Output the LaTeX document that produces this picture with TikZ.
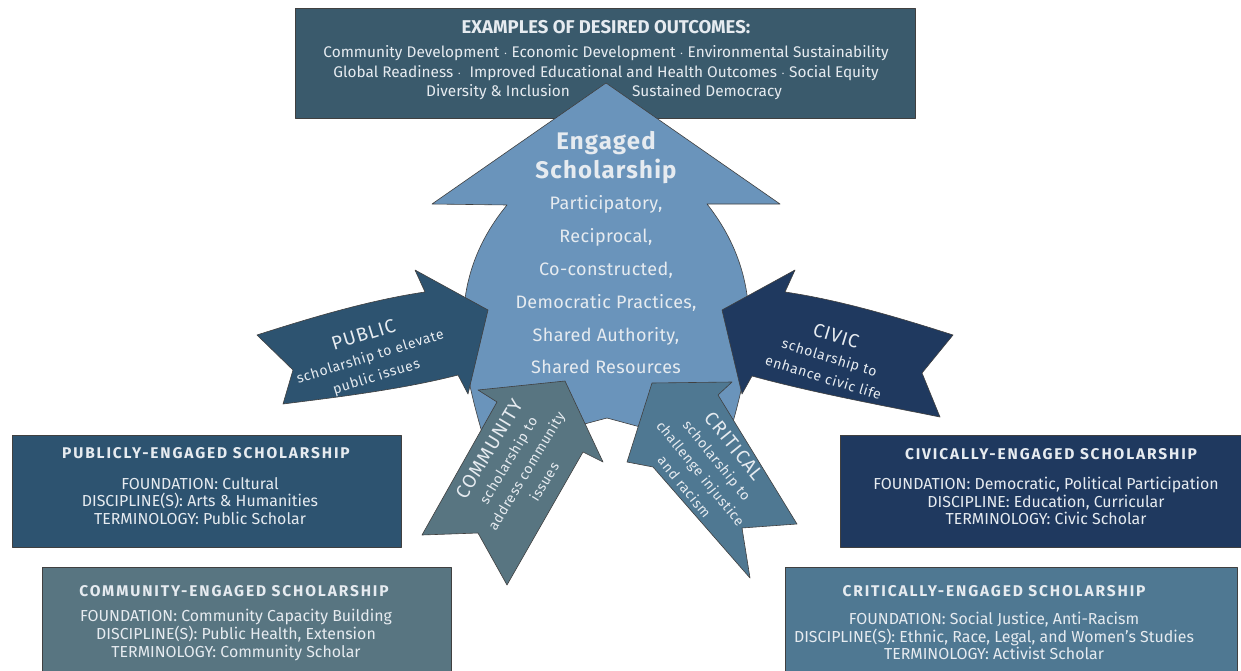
\documentclass[tikz,border=0pt]{standalone}
\usepackage{fontspec}
\setmainfont{Fira Sans}
\usepackage{xcolor}
\definecolor{top-slate}{RGB}{58,90,108}
\definecolor{engaged-blue}{RGB}{106,148,187}
\definecolor{public-blue}{RGB}{45,83,112}
\definecolor{civic-navy}{RGB}{31,57,95}
\definecolor{community-teal}{RGB}{88,117,129}
\definecolor{critical-blue}{RGB}{79,120,146}
\definecolor{pale-text}{RGB}{230,235,240}
\usetikzlibrary{calc}

\begin{document}
\begin{tikzpicture}[x=1pt,y=-1pt,
	outline/.style={draw=black!75,line width=0.6pt,line join=round},
	txt/.style={text=pale-text,inner sep=0pt,align=center},
	boxtitle/.style={txt,font=\fontsize{15.5}{18}\selectfont\bfseries\addfontfeatures{LetterSpace=12}},
	boxbody/.style={txt,font=\fontsize{15.9}{17.7}\selectfont},
	arrowtext/.style={txt,font=\fontsize{14}{21}\selectfont\addfontfeatures{LetterSpace=5}}]
	\clip (0,0) rectangle (1241,671);
	\fill[white] (0,0) rectangle (1241,671);

	% outcomes at the top
	\draw[outline,fill=top-slate] (295,8) rectangle (915,118);
	\node[txt,font=\fontsize{18.5}{20}\selectfont\bfseries] (outtitle) at (606,27) {EXAMPLES OF DESIRED OUTCOMES:};
	\node[txt,font=\fontsize{15.4}{19.7}\selectfont] (outlist) at (606,63)
		{Community Development $\cdot$ Economic Development $\cdot$ Environmental Sustainability\\
		 Global Readiness $\cdot$\ \ Improved Educational and Health Outcomes $\cdot$ Social Equity};
	\node[txt,font=\fontsize{15.4}{19}\selectfont] (diversity) at (498,92) {Diversity \& Inclusion};
	\node[txt,font=\fontsize{15.4}{19}\selectfont] (democracy) at (707,92) {Sustained Democracy};

	% the big arrow
	\draw[outline,fill=engaged-blue] (606,83) -- (780,204) -- (707,204)
		.. controls (775,290) and (745,380) .. (725,450) -- (607,418) -- (487,450)
		.. controls (467,380) and (437,290) .. (507,205) -- (432,204) -- cycle;
	\node[txt,font=\fontsize{24}{29}\selectfont\bfseries\addfontfeatures{LetterSpace=5}] (engaged) at (606,158)
		{Engaged\\Scholarship};
	\node[txt,font=\fontsize{18}{32.8}\selectfont\addfontfeatures{LetterSpace=2}] (traits) at (606,285)
		{Participatory,\\Reciprocal,\\Co-constructed,\\Democratic Practices,\\Shared Authority,\\Shared Resources};

	% public and civic arrows
	\draw[outline,fill=public-blue] (257,335) .. controls (310,318) and (370,300) .. (425,292)
		-- (415,270) -- (488,310) -- (468,394) -- (458,375)
		.. controls (400,390) and (330,398) .. (283,404) -- (293,370) -- cycle;
	\node[arrowtext,rotate=17] (public) at (370,356)
		{{\fontsize{19}{21}\selectfont PUBLIC}\\scholarship to elevate\\public issues};
	\draw[outline,fill=civic-navy] (953,335) .. controls (900,318) and (840,300) .. (785,292)
		-- (795,270) -- (722,310) -- (742,394) -- (752,376)
		.. controls (810,392) and (880,405) .. (940,417) -- (922,373) -- cycle;
	\node[arrowtext,rotate=-17] (civic) at (830,356)
		{{\fontsize{19}{21}\selectfont CIVIC}\\scholarship to\\enhance civic life};

	% community and critical arrows
	\draw[outline,fill=community-teal] (565,381) -- (603,462) -- (583,452) -- (507,585) -- (478,533)
		-- (422,535) -- (497,402) -- (478,390) -- cycle;
	\node[arrowtext,rotate=59] (community) at (516,465)
		{{\fontsize{19}{21}\selectfont COMMUNITY}\\scholarship to\\address community\\issues};
	\draw[outline,fill=critical-blue] (652,383) -- (732,382) -- (718,395) -- (797,524) -- (742,528)
		-- (750,578) -- (653,467) -- (627,462) -- cycle;
	\node[arrowtext,rotate=-51] (critical) at (710,466)
		{{\fontsize{19}{21}\selectfont CRITICAL}\\scholarship to\\challenge injustice\\and racism};

	% the four kinds of scholarship
	\draw[outline,fill=public-blue] (12,435) rectangle (401,547);
	\node[boxtitle] (pubtitle) at (206,453) {PUBLICLY-ENGAGED SCHOLARSHIP};
	\node[boxbody] (pubbody) at (200,501)
		{FOUNDATION: Cultural\\DISCIPLINE(S): Arts \& Humanities\\TERMINOLOGY: Public Scholar};

	\draw[outline,fill=civic-navy] (840,435) rectangle (1250,547);
	\node[boxtitle] (civtitle) at (1051,454) {CIVICALLY-ENGAGED SCHOLARSHIP};
	\node[boxbody] (civbody) at (1046,501)
		{FOUNDATION: Democratic, Political Participation\\DISCIPLINE: Education, Curricular\\TERMINOLOGY:\ Civic Scholar};

	\draw[outline,fill=community-teal] (42,567) rectangle (451,680);
	\node[boxtitle] (comtitle) at (234,591) {COMMUNITY-ENGAGED SCHOLARSHIP};
	\node[boxbody] (combody) at (236,635)
		{FOUNDATION:\ Community Capacity Building\\DISCIPLINE(S):\ Public Health, Extension\\TERMINOLOGY:\ Community Scholar};

	\draw[outline,fill=critical-blue] (785,567) rectangle (1237,680);
	\node[boxtitle] (crititle) at (994,591) {CRITICALLY-ENGAGED SCHOLARSHIP};
	\node[boxbody] (cribody) at (994,636)
		{FOUNDATION:\ Social Justice, Anti-Racism\\DISCIPLINE(S): Ethnic, Race, Legal, and Women's Studies\\TERMINOLOGY:\ Activist Scholar};
\end{tikzpicture}
\end{document}
